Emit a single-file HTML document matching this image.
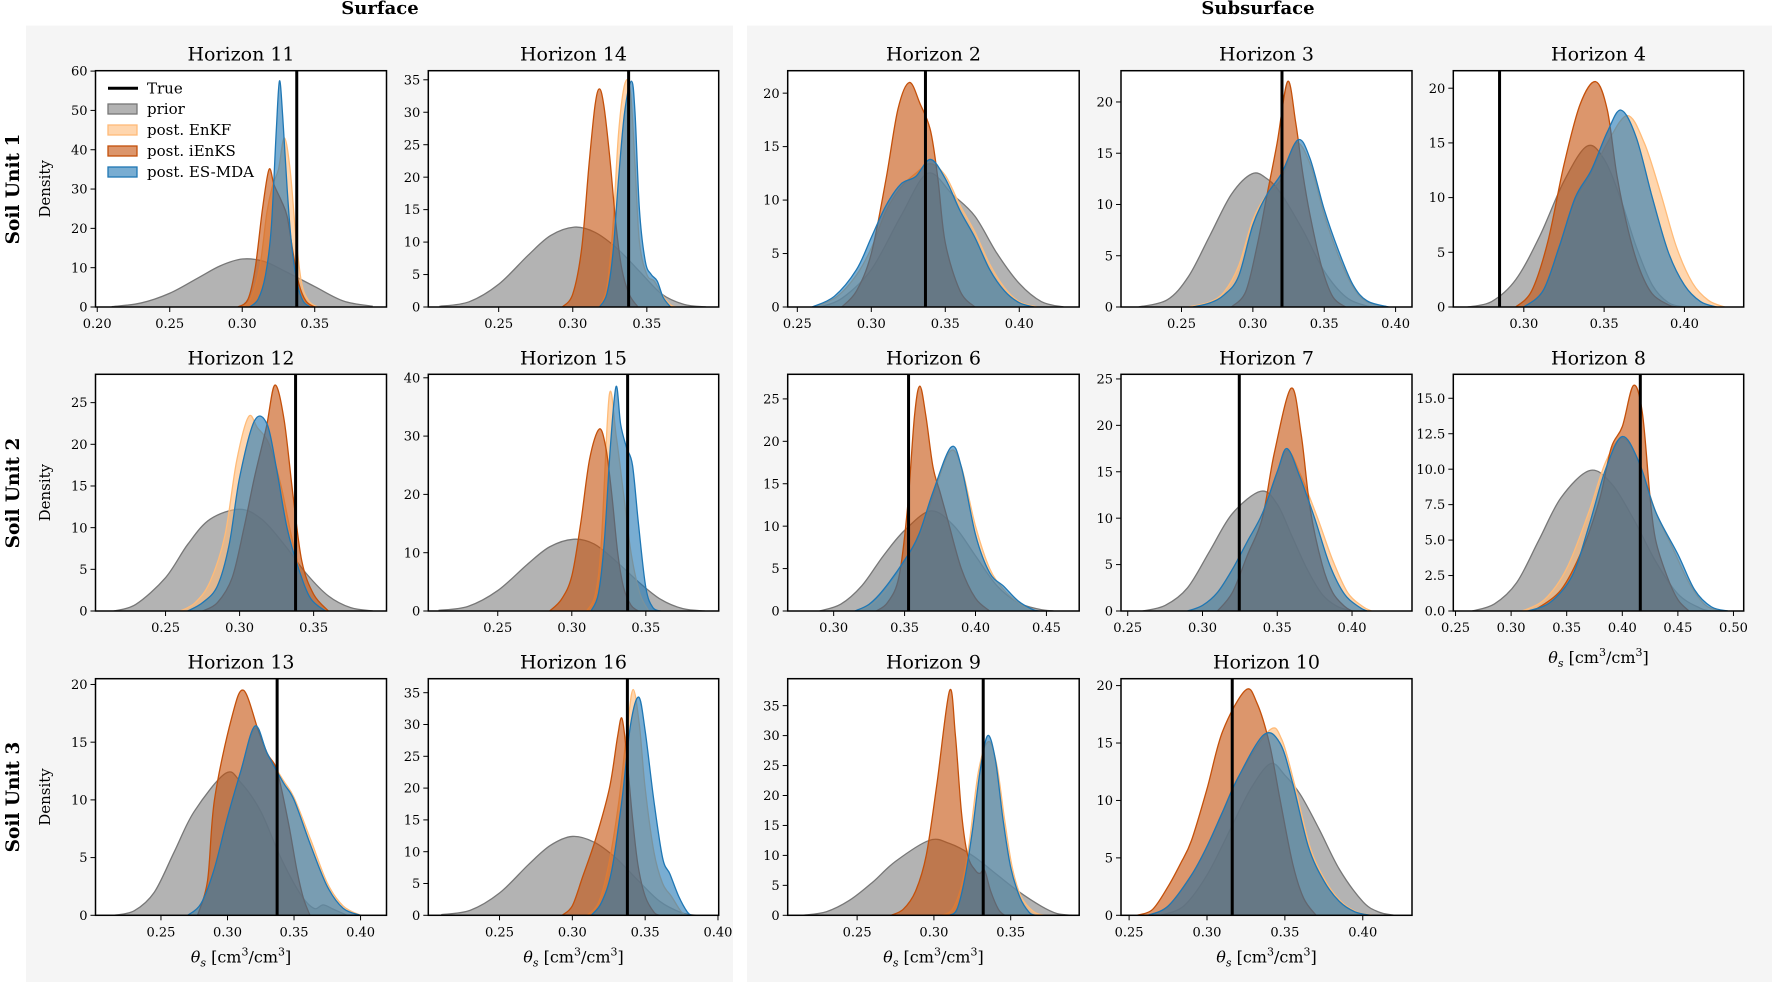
<!DOCTYPE html>
<html><head><meta charset="utf-8">
<style>
html,body{margin:0;padding:0;background:#fff;}
svg{display:block;font-family:"DejaVu Serif","Liberation Serif",serif;}
</style></head>
<body>
<svg id="fig" xmlns="http://www.w3.org/2000/svg" width="1772" height="982" viewBox="0 0 1772 982">
  <rect x="26" y="25.6" width="707" height="957" fill="#f5f5f5"/>
  <rect x="747" y="25.6" width="1025" height="957" fill="#f5f5f5"/>
  <text x="380" y="14" font-size="18" font-weight="bold" text-anchor="middle">Surface</text>
  <text x="1258" y="14" font-size="18" font-weight="bold" text-anchor="middle">Subsurface</text>
  <text transform="translate(19,189) rotate(-90)" font-size="18.5" font-weight="bold" text-anchor="middle">Soil Unit 1</text>
  <text transform="translate(19,493) rotate(-90)" font-size="18.5" font-weight="bold" text-anchor="middle">Soil Unit 2</text>
  <text transform="translate(19,797) rotate(-90)" font-size="18.5" font-weight="bold" text-anchor="middle">Soil Unit 3</text>
  <g id="plots"></g>
</svg>
<script>
// ---------- data (theta_s values, density values) ----------
const h11_prior=[[.21,.1],[.23,1],[.25,3.5],[.27,7.5],[.285,10.5],[.30,12.2],[.315,11.6],[.33,9],[.35,5.2],[.37,1.5],[.39,.2]];
const h11_enkf=[[.298,0],[.305,1.5],[.312,10],[.317,24],[.321,31],[.325,35],[.329,43],[.333,35],[.337,18],[.341,6],[.346,1.5],[.352,0]];
const h11_ienks=[[.297,0],[.304,2],[.309,10],[.314,25],[.3185,35],[.322,31],[.327,27],[.331,23],[.335,14],[.339,6],[.344,1.5],[.35,0]];
const h11_esmda=[[.305,0],[.311,2],[.316,8],[.32,20],[.3235,45],[.3257,57.5],[.328,48],[.331,30],[.334,16],[.338,6],[.342,1.5],[.347,0]];

const h14_prior=[[.21,.1],[.23,.8],[.25,3.5],[.27,8],[.285,11],[.301,12.3],[.315,11.5],[.33,9],[.345,5.5],[.36,2],[.375,.4],[.39,0]];
const h14_enkf=[[.318,0],[.323,3],[.327,12],[.331,27],[.3353,34.5],[.339,33],[.342,22],[.345,10],[.35,5],[.355,4],[.36,2],[.366,.3],[.37,0]];
const h14_ienks=[[.293,0],[.30,2],[.306,9],[.311,22],[.315,31],[.318,33.6],[.321,31],[.325,23],[.329,13],[.333,6],[.338,2],[.344,0]];
const h14_esmda=[[.318,0],[.323,2],[.327,8],[.331,20],[.335,30],[.3396,34.8],[.342,30],[.345,15],[.349,7],[.353,5],[.357,4],[.361,1.5],[.366,0]];

const h2_prior=[[.265,0],[.28,.8],[.30,3.5],[.32,8.5],[.338,12.5],[.355,10.5],[.37,8.5],[.385,5],[.40,2.2],[.415,.5],[.43,0]];
const h2_enkf=[[.262,0],[.277,1],[.29,3],[.30,5.5],[.31,9],[.32,11.2],[.33,12.5],[.34,13.4],[.35,12.3],[.36,9.5],[.37,7],[.38,4],[.39,1.8],[.40,.5],[.412,0]];
const h2_ienks=[[.28,0],[.29,1.5],[.30,5],[.31,12],[.318,18.5],[.3257,21],[.333,19],[.34,16.5],[.345,12],[.35,6],[.36,1.5],[.37,0]];
const h2_esmda=[[.26,0],[.275,1],[.29,3.5],[.30,6.5],[.31,9.5],[.32,11.5],[.33,12.2],[.34,13.8],[.35,12],[.36,9],[.37,6.5],[.38,3.5],[.39,1.5],[.40,.4],[.41,0]];

const h3_prior=[[.22,0],[.24,.7],[.255,3],[.27,7],[.285,11],[.2995,13],[.31,12.5],[.32,11],[.335,7.5],[.35,3.5],[.365,1],[.38,.1],[.39,0]];
const h3_enkf=[[.255,0],[.27,.5],[.28,1.5],[.29,4],[.30,8.5],[.31,11],[.32,12.5],[.33,16],[.34,14],[.35,9],[.36,5],[.37,2],[.38,.5],[.395,0]];
const h3_ienks=[[.285,0],[.295,1.5],[.303,6],[.31,11],[.317,16],[.3244,22],[.33,18],[.335,13],[.34,9],[.348,4],[.356,1],[.365,0]];
const h3_esmda=[[.258,0],[.27,.4],[.28,1.2],[.29,3],[.30,8],[.31,11],[.32,13],[.3315,16.3],[.34,14.5],[.35,9.5],[.36,5.5],[.37,2.2],[.38,.6],[.395,0]];

const h4_prior=[[.265,0],[.28,.5],[.295,2.5],[.31,6.5],[.325,11.5],[.3393,14.7],[.35,13.5],[.36,10],[.37,5.5],[.38,2],[.39,.4],[.40,0]];
const h4_enkf=[[.30,0],[.312,1.2],[.322,5],[.332,9.5],[.342,12],[.352,15],[.3645,17.5],[.375,15],[.385,10.5],[.395,5.5],[.405,2.2],[.415,.6],[.425,0]];
const h4_ienks=[[.295,0],[.305,1.5],[.315,6],[.325,13],[.335,18.5],[.3447,20.6],[.352,18],[.358,12],[.365,7],[.372,3.5],[.38,1.2],[.39,.2],[.395,0]];
const h4_esmda=[[.30,0],[.312,1.5],[.322,5.5],[.332,10],[.342,12.5],[.352,16],[.3605,18],[.37,15.5],[.38,10],[.39,5],[.40,2],[.41,.5],[.42,0]];

const h12_prior=[[.215,0],[.23,.8],[.25,4],[.265,8],[.28,11],[.30,12.2],[.315,11],[.33,8],[.345,4.5],[.36,1.8],[.375,.4],[.39,0]];
const h12_enkf=[[.26,0],[.27,1],[.28,3.5],[.29,9],[.298,18],[.306,23.3],[.312,22],[.32,20],[.328,15],[.335,9],[.342,4],[.35,1],[.36,0]];
const h12_ienks=[[.275,0],[.285,1],[.295,4],[.303,10],[.31,16],[.318,22],[.3238,27.1],[.33,23],[.336,14],[.342,6],[.35,2],[.36,0]];
const h12_esmda=[[.265,0],[.275,1],[.285,3],[.293,8],[.30,16],[.31,22.8],[.3186,22.4],[.325,17],[.332,10],[.34,5],[.348,1.5],[.358,0]];

const h15_prior=[[.21,.1],[.23,.8],[.25,3.5],[.27,8],[.285,11],[.301,12.3],[.315,11.5],[.33,8.5],[.345,5],[.36,2],[.375,.4],[.39,0]];
const h15_enkf=[[.31,0],[.316,3],[.32,12],[.3253,37],[.33,30],[.335,20],[.34,10],[.346,3],[.352,0]];
const h15_ienks=[[.285,0],[.293,2],[.30,6],[.306,15],[.312,26],[.3185,31.2],[.323,28],[.327,20],[.331,10],[.335,4],[.34,1],[.345,0]];
const h15_esmda=[[.313,0],[.318,3],[.322,12],[.326,28],[.3299,38.5],[.333,32],[.337,28],[.341,25],[.345,15],[.35,4],[.355,.5],[.36,0]];

const h6_prior=[[.29,0],[.305,.8],[.32,3],[.335,6.5],[.35,9.5],[.3686,11.8],[.385,10],[.40,6.5],[.415,3],[.43,1],[.445,.2],[.455,0]];
const h6_enkf=[[.317,0],[.327,.8],[.337,2.5],[.35,5.5],[.36,8.5],[.37,13.5],[.382,18.8],[.39,17],[.40,10],[.41,5],[.42,2.5],[.43,1],[.44,0]];
const h6_ienks=[[.33,0],[.338,1],[.346,4],[.352,12],[.357,23],[.3608,26.5],[.365,23],[.37,17],[.375,14],[.38,11],[.39,5],[.40,1.5],[.41,0]];
const h6_esmda=[[.315,0],[.325,.8],[.335,2.5],[.35,6],[.36,9],[.37,14],[.3827,19.3],[.39,17],[.40,9],[.41,4.5],[.42,2.9],[.43,1.2],[.44,.2],[.445,0]];

const h7_prior=[[.26,0],[.275,.6],[.29,2.5],[.305,6.5],[.32,10.5],[.339,12.9],[.35,11.5],[.36,8],[.37,4.5],[.38,1.8],[.39,.5],[.40,0]];
const h7_enkf=[[.29,0],[.30,.5],[.31,2],[.32,4.5],[.33,7.5],[.34,10.5],[.35,15],[.357,17.3],[.366,14.5],[.377,10],[.387,5.5],[.397,2],[.407,.5],[.413,0]];
const h7_ienks=[[.31,0],[.32,2],[.33,6],[.34,10],[.348,17],[.3593,24],[.366,19],[.372,11],[.38,5],[.387,2],[.395,.5],[.40,0]];
const h7_esmda=[[.29,0],[.30,.6],[.31,2],[.32,4.5],[.33,7.5],[.34,10.5],[.35,15],[.3565,17.5],[.365,14.5],[.375,10],[.385,5],[.395,1.8],[.405,.4],[.41,0]];

const h8_prior=[[.265,0],[.285,.5],[.305,2],[.325,5],[.345,8],[.3705,9.9],[.39,9],[.41,6.5],[.43,3.5],[.45,1.2],[.47,.2],[.48,0]];
const h8_enkf=[[.31,0],[.33,.8],[.35,3],[.37,7],[.385,10.5],[.40,12.2],[.415,10.5],[.43,7],[.445,4.5],[.46,2],[.475,.4],[.49,0]];
const h8_ienks=[[.32,0],[.345,1.5],[.365,4.5],[.38,8],[.39,11.5],[.40,13],[.41,15.9],[.418,14],[.425,8],[.43,5],[.44,2.5],[.45,.8],[.46,0]];
const h8_esmda=[[.315,0],[.335,.6],[.355,2.5],[.37,6],[.385,10],[.40,12.3],[.415,10.5],[.43,7],[.45,4],[.465,1.5],[.48,.3],[.495,0]];

const h13_prior=[[.215,0],[.23,.4],[.245,2],[.26,5.5],[.275,9],[.2985,12.3],[.31,11.5],[.325,9],[.34,5],[.355,1.8],[.365,.6],[.372,.9],[.38,.5],[.39,0]];
const h13_enkf=[[.27,0],[.28,1],[.29,4],[.30,8.5],[.31,12.5],[.3206,16.2],[.33,14],[.3419,11.7],[.35,10.2],[.3627,6.5],[.375,2.8],[.387,.8],[.40,0]];
const h13_ienks=[[.2775,0],[.285,3],[.2902,10],[.3029,17],[.312,19.5],[.3232,16],[.33,14],[.3373,12.5],[.3458,8],[.352,4],[.357,1.5],[.362,0]];
const h13_esmda=[[.27,0],[.28,1],[.29,4],[.30,8.5],[.31,12.5],[.3206,16.4],[.33,14],[.3419,11.5],[.35,10],[.3627,6],[.375,2.5],[.387,.6],[.40,0]];

const h16_prior=[[.21,.1],[.23,.8],[.25,3.5],[.27,8],[.285,11],[.30,12.4],[.315,11.5],[.33,9],[.345,5.5],[.36,2.2],[.375,.4],[.385,0]];
const h16_enkf=[[.31,0],[.318,2],[.325,8],[.332,18],[.338,30],[.3418,35.5],[.346,30],[.35,20],[.356,10],[.362,5],[.368,3],[.375,.5],[.38,0]];
const h16_ienks=[[.293,0],[.30,1.5],[.307,6],[.316,12],[.3255,20],[.331,28],[.334,31],[.337,26],[.341,16],[.345,8],[.35,3],[.356,.5],[.36,0]];
const h16_esmda=[[.313,0],[.32,2],[.327,7],[.334,18],[.34,30],[.3456,34.3],[.35,29],[.356,18],[.362,9],[.367,6.5],[.373,3],[.379,.5],[.382,0]];

const h9_prior=[[.215,0],[.23,.6],[.245,2.5],[.26,5.5],[.275,9],[.2969,12.5],[.31,12],[.325,10],[.34,7],[.355,4],[.37,1.5],[.38,.3],[.39,0]];
const h9_enkf=[[.305,0],[.312,1],[.318,5],[.323,12],[.329,24],[.3355,29],[.341,25],[.346,16],[.351,8],[.357,3],[.365,.6],[.372,0]];
const h9_ienks=[[.272,0],[.28,1],[.288,4],[.295,10],[.302,22],[.3102,37.5],[.314,30],[.318,17],[.322,10],[.327,7.5],[.330,7],[.333,7.5],[.337,4],[.342,1],[.346,0]];
const h9_esmda=[[.31,0],[.315,1],[.32,6],[.325,14],[.33,24],[.335,30],[.34,26],[.345,16],[.35,8],[.356,3],[.362,.5],[.366,0]];

const h10_prior=[[.27,0],[.285,.8],[.30,3.5],[.315,7.5],[.328,11],[.3407,13.2],[.35,12.2],[.36,10.5],[.372,7.5],[.385,4],[.40,1.2],[.41,.3],[.42,0]];
const h10_enkf=[[.262,0],[.275,.8],[.29,3.5],[.30,6],[.31,9],[.32,12],[.34,16.1],[.348,15.3],[.356,11.5],[.366,6],[.376,3],[.386,1.2],[.396,.3],[.406,0]];
const h10_ienks=[[.255,0],[.265,.5],[.275,2.5],[.283,4.5],[.29,6.5],[.30,11],[.31,16],[.3247,19.6],[.332,18.5],[.34,15],[.347,10],[.355,4.5],[.362,1.5],[.37,0]];
const h10_esmda=[[.262,0],[.275,.8],[.29,3.5],[.30,6],[.31,9],[.32,12],[.3363,15.7],[.3468,15],[.355,11.5],[.365,6],[.375,3],[.385,1.2],[.395,.3],[.405,0]];

// true values
const trueValues=[.3376,.3377,.3366,.3204,.2849,.3378,.3377,.3528,.3246,.4162,.3373,.3378,.3321,.3162];
const titles=["Horizon 11","Horizon 14","Horizon 2","Horizon 3","Horizon 4","Horizon 12","Horizon 15","Horizon 6","Horizon 7","Horizon 8","Horizon 13","Horizon 16","Horizon 9","Horizon 10"];
const xlims=[[.1988,.3995],[.2025,.3985],[.2435,.4405],[.2076,.4115],[.2561,.4369],[.2027,.3992],[.2031,.3992],[.2676,.4731],[.2455,.4401],[.248,.5092],[.2008,.4195],[.2011,.4005],[.2048,.3946],[.2448,.4316]];
const ymaxs=[60.1,36.4,22.1,23.05,21.6,28.4,40.6,27.9,25.5,16.69,20.5,37.2,39.5,20.6];
const xtickSets=[[.20,.25,.30,.35],[.25,.30,.35],[.25,.30,.35,.40],[.25,.30,.35,.40],[.30,.35,.40],[.25,.30,.35],[.25,.30,.35],[.30,.35,.40,.45],[.25,.30,.35,.40],[.25,.30,.35,.40,.45,.50],[.25,.30,.35,.40],[.25,.30,.35,.40],[.25,.30,.35],[.25,.30,.35,.40]];
const ytickSets=[[0,10,20,30,40,50,60],[0,5,10,15,20,25,30,35],[0,5,10,15,20],[0,5,10,15,20],[0,5,10,15,20],[0,5,10,15,20,25],[0,10,20,30,40],[0,5,10,15,20,25],[0,5,10,15,20,25],[0,2.5,5,7.5,10,12.5,15],[0,5,10,15,20],[0,5,10,15,20,25,30,35],[0,5,10,15,20,25,30,35],[0,5,10,15,20]];
const seriesSets=[
 [h11_prior,h11_enkf,h11_ienks,h11_esmda],[h14_prior,h14_enkf,h14_ienks,h14_esmda],
 [h2_prior,h2_enkf,h2_ienks,h2_esmda],[h3_prior,h3_enkf,h3_ienks,h3_esmda],[h4_prior,h4_enkf,h4_ienks,h4_esmda],
 [h12_prior,h12_enkf,h12_ienks,h12_esmda],[h15_prior,h15_enkf,h15_ienks,h15_esmda],
 [h6_prior,h6_enkf,h6_ienks,h6_esmda],[h7_prior,h7_enkf,h7_ienks,h7_esmda],[h8_prior,h8_enkf,h8_ienks,h8_esmda],
 [h13_prior,h13_enkf,h13_ienks,h13_esmda],[h16_prior,h16_enkf,h16_ienks,h16_esmda],
 [h9_prior,h9_enkf,h9_ienks,h9_esmda],[h10_prior,h10_enkf,h10_ienks,h10_esmda]];
const seriesNames=["prior","post. EnKF","post. iEnKS","post. ES-MDA"];

// ---------- layout / style ----------
const colX=[[95.5,386.5],[428.3,718.7],[787.7,1079.2],[1121,1412],[1453.3,1743.7]];
const rowY=[[70.7,307],[374.3,611],[678.7,915.3]];
const cells=[[0,0],[1,0],[2,0],[3,0],[4,0],[0,1],[1,1],[2,1],[3,1],[4,1],[0,2],[1,2],[2,2],[3,2]];
const styles=[
 {fill:"#808080",stroke:"#777777",fo:0.6,key:"prior"},
 {fill:"#ffbb78",stroke:"#ffbb78",fo:0.6,key:"enkf"},
 {fill:"#c4500a",stroke:"#c4500a",fo:0.6,key:"ienks"},
 {fill:"#1f77b4",stroke:"#1f77b4",fo:0.6,key:"esmda"}];
const NS="http://www.w3.org/2000/svg";
const root=document.getElementById("plots");
function mk(tag,attrs,parent){const e=document.createElementNS(NS,tag);for(const k in attrs)e.setAttribute(k,attrs[k]);(parent||root).appendChild(e);return e;}
function slug(s){return s.toLowerCase().replace(/[^a-z0-9]+/g,"-").replace(/^-|-$/g,"");}

function curvePath(pts,base){
  let d="M"+pts[0][0].toFixed(2)+","+pts[0][1].toFixed(2);
  for(let i=0;i<pts.length-1;i++){
    const p0=pts[Math.max(i-1,0)],p1=pts[i],p2=pts[i+1],p3=pts[Math.min(i+2,pts.length-1)];
    const c1x=p1[0]+(p2[0]-p0[0])/6,c1y=Math.min(base,p1[1]+(p2[1]-p0[1])/6);
    const c2x=p2[0]-(p3[0]-p1[0])/6,c2y=Math.min(base,p2[1]-(p3[1]-p1[1])/6);
    d+=" C"+c1x.toFixed(2)+","+c1y.toFixed(2)+" "+c2x.toFixed(2)+","+c2y.toFixed(2)+" "+p2[0].toFixed(2)+","+p2[1].toFixed(2);
  }
  return d;
}

cells.forEach((cell,i)=>{
  const [x0,x1]=colX[cell[0]],[y0,y1]=rowY[cell[1]];
  const xl=xlims[i],ymax=ymaxs[i];
  const sx=v=>x0+(v-xl[0])/(xl[1]-xl[0])*(x1-x0);
  const sy=v=>y1-v/ymax*(y1-y0);
  const tag=slug(titles[i]);
  const g=mk("g",{});
  
  
  const bg=mk("rect",{x:x0,y:y0,width:x1-x0,height:y1-y0,fill:"#fff"},g);
  
  
  const cp=mk("clipPath",{id:"clip"+i},g);
  mk("rect",{x:x0,y:y0,width:x1-x0,height:y1-y0},cp);
  const cg=mk("g",{"clip-path":"url(#clip"+i+")"},g);
  seriesSets[i].forEach((ser,k)=>{
    const pts=ser.map(p=>[sx(p[0]),sy(p[1])]);
    const c=curvePath(pts,y1);
    const st=styles[k];
    const f=mk("path",{d:c+" L"+pts[pts.length-1][0].toFixed(2)+","+y1+" L"+pts[0][0].toFixed(2)+","+y1+" Z",fill:st.fill,"fill-opacity":st.fo,stroke:"none"},cg);
    
    
    const l=mk("path",{d:c,fill:"none",stroke:st.stroke,"stroke-width":1.3},cg);
    
    
  });
  const tv=mk("line",{x1:sx(trueValues[i]),x2:sx(trueValues[i]),y1:y0,y2:y1,stroke:"#000","stroke-width":3},cg);
  
  
  const fr=mk("rect",{x:x0,y:y0,width:x1-x0,height:y1-y0,fill:"none",stroke:"#000","stroke-width":1.5},g);
  
  
  const t=mk("text",{x:(x0+x1)/2,y:y0-10,"font-size":19,"text-anchor":"middle"},g);
  t.textContent=titles[i];
  
  
  xtickSets[i].forEach(v=>{
    const X=sx(v);
    mk("line",{x1:X,x2:X,y1:y1,y2:y1+5,stroke:"#000","stroke-width":1},g);
    const tt=mk("text",{x:X,y:y1+21,"font-size":13,"text-anchor":"middle"},g);
    tt.textContent=v.toFixed(2);
    
    
  });
  const dec=ytickSets[i].some(v=>v%1!==0);
  ytickSets[i].forEach(v=>{
    const Y=sy(v);
    mk("line",{x1:x0-5,x2:x0,y1:Y,y2:Y,stroke:"#000","stroke-width":1},g);
    const tt=mk("text",{x:x0-8,y:Y+4.6,"font-size":13,"text-anchor":"end"},g);
    tt.textContent=dec?v.toFixed(1):String(v);
    
    
  });
  if(cell[0]===0){
    const yl=mk("text",{transform:"translate(50,"+((y0+y1)/2)+") rotate(-90)","font-size":15,"text-anchor":"middle"},g);
    yl.textContent="Density";
    
    
  }
  if(cell[1]===2||i===9){
    const xlab=mk("text",{x:(x0+x1)/2,y:y1+(i===9?52:47),"font-size":16,"text-anchor":"middle"},g);
    xlab.innerHTML='<tspan font-style="italic">θ</tspan><tspan font-size="11" dy="4" font-style="italic">s</tspan><tspan dy="-4"> [cm</tspan><tspan font-size="11" dy="-7">3</tspan><tspan dy="7">/cm</tspan><tspan font-size="11" dy="-7">3</tspan><tspan dy="7">]</tspan>';
    
    
  }
});

// legend in Horizon 11
const lg=mk("g",{});


const legY=[88.3,109,130,151,172];
const ll=mk("line",{x1:108,x2:138,y1:legY[0],y2:legY[0],stroke:"#000","stroke-width":3},lg);


const lt=mk("text",{x:147,y:legY[0]+5,"font-size":15},lg);
lt.textContent="True";


seriesNames.forEach((n,k)=>{
  const st=styles[k];
  const r=mk("rect",{x:108,y:legY[k+1]-5,width:29,height:10,fill:st.fill,"fill-opacity":st.fo,stroke:st.stroke,"stroke-width":1.3},lg);
  
  
  const tx=mk("text",{x:147,y:legY[k+1]+5,"font-size":15},lg);
  tx.textContent=n;
  
  
});
</script>
</body></html>
